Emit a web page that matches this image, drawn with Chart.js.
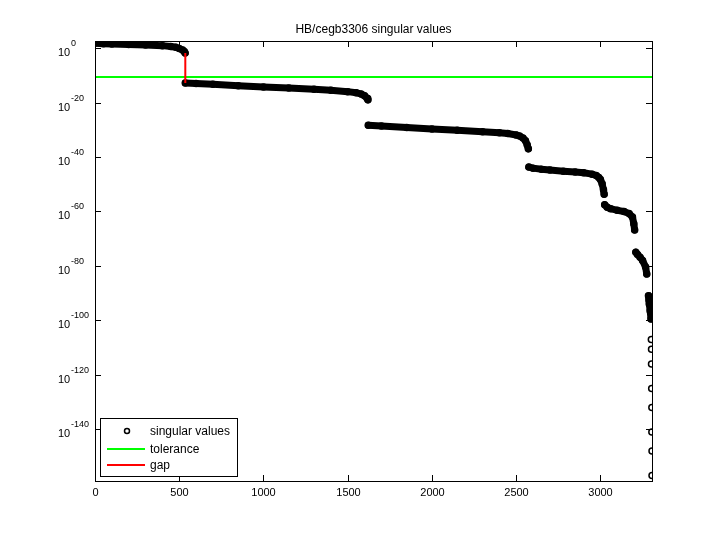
<!DOCTYPE html>
<html>
<head>
<meta charset="utf-8">
<script src="https://cdn.jsdelivr.net/npm/chart.js@4/dist/chart.umd.min.js"></script>
<style>
body{margin:0;background:#fff}
#wrap{width:720px;height:540px}
</style>
</head>
<body>
<div id="wrap"><canvas id="c"></canvas></div>
<script>
// singular values: index and log10(value)
const svIndex = [0,50,100,200,300,400,450,480,500,520,530,535,
  536,600,700,850,1000,1150,1300,1400,1500,1550,1580,1600,1615,1620,
  1622,1700,1850,2000,2150,2300,2400,2450,2500,2520,2540,2555,2565,2572,
  2575,2600,2650,2700,2780,2850,2900,2950,2975,2990,3000,3010,3018,3022,
  3025,3040,3060,3100,3140,3170,3190,3198,3203,
  3210,3220,3235,3250,3268,3275,3285,3288,3290,3295,3300,3302,3303,3303,3304,3305,3305,3306,3306]
const svLog = [1.8,1.6,1.5,1.3,1.1,0.9,0.6,0.3,-0.2,-0.7,-1.3,-1.8,
  -12.8,-13.0,-13.3,-13.8,-14.3,-14.7,-15.1,-15.5,-16.0,-16.4,-16.9,-17.5,-18.4,-19.0,
  -28.3,-28.6,-29.2,-29.7,-30.2,-30.7,-31.1,-31.4,-31.9,-32.3,-33.0,-34.0,-35.5,-37.0,
  -43.7,-44.1,-44.5,-44.8,-45.2,-45.5,-45.8,-46.3,-46.8,-47.5,-48.3,-49.8,-52.0,-53.7,
  -57.5,-58.5,-59.0,-59.6,-60.0,-60.8,-62.0,-64.5,-66.8,
  -75.0,-75.8,-76.8,-78.0,-80.4,-83.0,-91.0,-92.5,-94.0,-96.5,-99.5,-107.0,-110.6,-116.0,-125.0,-132.0,-141.0,-148.0,-157.0]
const toleranceLog = -10.6
const gapIndex = 536
const gapLog = [-1.8, -12.8]
const xTicks = [0,500,1000,1500,2000,2500,3000]
const yTicks = [0,-20,-40,-60,-80,-100,-120,-140]
const nMax = 3306

const svPoints = svIndex.map((x,i)=>({x:x,y:svLog[i]}))
const font = '"Liberation Sans", Arial, sans-serif'

const frame = {
  id:'frame',
  afterDraw(chart){
    const c = chart.ctx, a = chart.chartArea
    const xs = chart.scales.x, ys = chart.scales.y
    c.save()
    c.strokeStyle='#000'; c.lineWidth=1
    c.strokeRect(a.left+0.5,a.top+0.5,a.right-a.left,a.bottom-a.top)
    c.fillStyle='#000'
    c.font='11px '+font
    c.textAlign='center'; c.textBaseline='top'
    xTicks.forEach(t=>{
      const x=Math.round(xs.getPixelForValue(t))+0.5
      c.beginPath(); c.moveTo(x,a.bottom); c.lineTo(x,a.bottom-6)
      c.moveTo(x,a.top); c.lineTo(x,a.top+6); c.stroke()
      c.fillText(String(t),x,a.bottom+6)
    })
    yTicks.forEach(t=>{
      const y=Math.round(ys.getPixelForValue(t))+0.5
      c.beginPath(); c.moveTo(a.left,y); c.lineTo(a.left+6,y)
      c.moveTo(a.right,y); c.lineTo(a.right-6,y); c.stroke()
      c.font='11px '+font
      c.textAlign='left'; c.textBaseline='middle'
      c.fillText('10',58,y+4)
      c.font='9px '+font
      c.fillText(String(t),71,y-5)
    })
    c.font='12px '+font
    c.textAlign='center'; c.textBaseline='alphabetic'
    c.fillText('HB/cegb3306 singular values',(a.left+a.right)/2,33)
    // legend
    const lx=100, ly=418
    c.fillStyle='#fff'
    c.fillRect(lx,ly,137,58)
    c.strokeRect(lx+0.5,ly+0.5,137,58)
    c.fillStyle='#000'
    c.font='12px '+font
    c.textAlign='left'; c.textBaseline='middle'
    const ds=chart.data.datasets
    c.beginPath(); c.lineWidth=1.5; c.arc(127,431,2.5,0,Math.PI*2); c.stroke()
    c.fillText(ds[0].label,150,432)
    c.lineWidth=2
    c.strokeStyle=ds[1].borderColor
    c.beginPath(); c.moveTo(107,449); c.lineTo(145,449); c.stroke()
    c.fillText(ds[1].label,150,450)
    c.strokeStyle=ds[2].borderColor
    c.beginPath(); c.moveTo(107,465); c.lineTo(145,465); c.stroke()
    c.fillText(ds[2].label,150,466)
    c.restore()
  }
}

new Chart(document.getElementById('c'),{
  type:'scatter',
  data:{datasets:[
    {label:'singular values',data:svPoints,showLine:true,borderColor:'#000',borderWidth:7,
     borderCapStyle:'round',borderJoinStyle:'round',pointRadius:3,pointBorderWidth:1.5,
     pointBackgroundColor:'rgba(0,0,0,0)',pointBorderColor:'#000',order:2,
     segment:{borderColor:s=>Math.abs(s.p1.y-s.p0.y)>9?'rgba(0,0,0,0)':'#000'}},
    {label:'tolerance',data:[{x:0,y:toleranceLog},{x:nMax,y:toleranceLog}],showLine:true,
     borderColor:'#00ff00',borderWidth:2,pointRadius:0,order:1},
    {label:'gap',data:[{x:gapIndex,y:gapLog[0]},{x:gapIndex,y:gapLog[1]}],showLine:true,
     borderColor:'#ff0000',borderWidth:2,pointRadius:0,order:0}
  ]},
  options:{
    responsive:true,maintainAspectRatio:false,animation:false,
    layout:{padding:{left:95,right:68,top:41,bottom:59}},
    scales:{
      x:{type:'linear',min:0,max:nMax,display:false},
      y:{type:'linear',min:-159,max:2.6,display:false}
    },
    plugins:{legend:{display:false},tooltip:{enabled:false}}
  },
  plugins:[frame]
})
</script>
</body>
</html>
